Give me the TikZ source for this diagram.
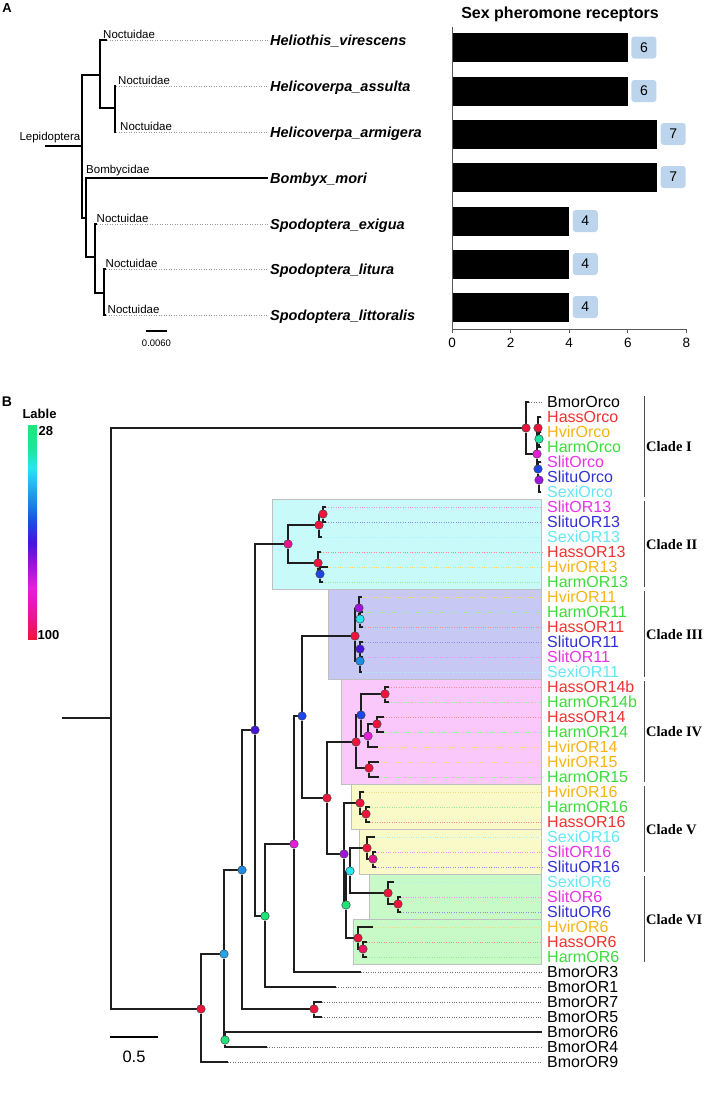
\documentclass[tikz,border=0pt]{standalone}
\usepackage{fontspec}
\setmainfont{Liberation Sans}
\newfontfamily\cladefont{Liberation Serif}
\usetikzlibrary{backgrounds}
\usetikzlibrary{positioning}

% species colours (leaf names)
\definecolor{cHass}{HTML}{F03232}
\definecolor{cHvir}{HTML}{F5B414}
\definecolor{cHarm}{HTML}{3CDC3C}
\definecolor{cSlit}{HTML}{E632E6}
\definecolor{cSlitu}{HTML}{3232D2}
\definecolor{cSexi}{HTML}{64E6F5}
\definecolor{cBmor}{HTML}{000000}
% support colours (node dots)
\definecolor{bRed}{HTML}{F0143C}
\definecolor{bPink}{HTML}{EB1490}
\definecolor{bMag}{HTML}{E61EDC}
\definecolor{bPur}{HTML}{A014DC}
\definecolor{bVio}{HTML}{4614DC}
\definecolor{bBlue}{HTML}{1E46E6}
\definecolor{bSky}{HTML}{1E8CE6}
\definecolor{bCyan}{HTML}{28E6F0}
\definecolor{bTeal}{HTML}{1EE6A0}
\definecolor{bGreen}{HTML}{1EE678}
% clade boxes
\definecolor{boxII}{HTML}{C8FAFA}
\definecolor{boxIII}{HTML}{C8C8F5}
\definecolor{boxIV}{HTML}{FAC8FA}
\definecolor{boxV}{HTML}{FAFAC8}
\definecolor{boxVI}{HTML}{C8FAC8}
\definecolor{valblue}{HTML}{BCD5EC}
\definecolor{treeblack}{HTML}{1E1E1E}

\pgfdeclareverticalshading{lablebar}{100bp}{color(0bp)=(bRed); color(25bp)=(bRed);
  color(30bp)=(bPink); color(37bp)=(bMag); color(42bp)=(bPur); color(47.5bp)=(bVio);
  color(52bp)=(bBlue); color(57.5bp)=(bSky); color(65bp)=(bCyan); color(69bp)=(bTeal);
  color(75bp)=(bGreen); color(100bp)=(bGreen)}

\tikzset{
  panel/.style={font=\fontsize{13}{15}\selectfont\bfseries, inner sep=0pt},
  sp/.style={font=\fontsize{14.5}{16}\selectfont\bfseries\itshape, anchor=base west, inner sep=0pt},
  fam/.style={font=\fontsize{11.5}{13}\selectfont, anchor=south west, inner sep=0.5pt},
  adot/.style={draw=black!40, line width=0.6pt, dash pattern=on 1pt off 1.5pt, shorten >=2pt},
  barbox/.style={anchor=west, fill=black, inner sep=0pt, minimum height=29pt},
  valbox/.style={fill=valblue, rounded corners=3pt, inner sep=0pt, minimum width=25pt,
    minimum height=22pt, font=\fontsize{14}{16}\selectfont},
  axisline/.style={draw=black!65, line width=0.8pt},
  tick/.style={font=\fontsize{13.5}{15}\selectfont, inner sep=0pt},
  bn/.style={circle, draw=black!75, line width=0.5pt, inner sep=0pt, minimum size=8.5pt},
  tline/.style={draw=treeblack, line width=1.1pt},
  leafname/.style={anchor=west, inner sep=0pt, font=\fontsize{16}{18}\selectfont,
    text height=11.5pt, text depth=0pt},
  leafdot/.style={line width=0.8pt, dash pattern=on 0.8pt off 1.6pt, shorten >=5pt},
  cbox/.style={draw=black!25, line width=0.6pt},
  cbar/.style={draw=black!70, line width=1pt},
  cladelab/.style={anchor=west, inner sep=0pt, font=\fontsize{14.5}{16}\selectfont\cladefont\bfseries}
}

\begin{document}
\begin{tikzpicture}[x=1pt, y=-1pt]
\useasboundingbox (0,0) rectangle (714,1114);

% ---------------- panel A
\node[panel] (pA) at (7,8) {A};

\coordinate (lstub) at (45,146);
\coordinate (lep) at (82,146);
\coordinate (ag1) at (100,75);
\coordinate (ag2) at (115,108);
\coordinate (ag3) at (86,218);
\coordinate (ag4) at (95,257);
\coordinate (ag5) at (104,293);
\coordinate (at1) at (107,40);
\coordinate (at2) at (116,86);
\coordinate (at3) at (116,132);
\coordinate (at4) at (268,178);
\coordinate (at5) at (97,224);
\coordinate (at6) at (106,269);
\coordinate (at7) at (106,315);

\node[sp] (sp1) at (270,45) {Heliothis\_virescens};
\node[sp] (sp2) at (270,91) {Helicoverpa\_assulta};
\node[sp] (sp3) at (270,137) {Helicoverpa\_armigera};
\node[sp] (sp4) at (270,183) {Bombyx\_mori};
\node[sp] (sp5) at (270,229) {Spodoptera\_exigua};
\node[sp] (sp6) at (270,274) {Spodoptera\_litura};
\node[sp] (sp7) at (270,320) {Spodoptera\_littoralis};

\node[fam, anchor=south east] (lepl) at (81,144) {Lepidoptera};
\node[fam] (f1) at (102.5,39) {Noctuidae};
\node[fam] (f2) at (117.5,85) {Noctuidae};
\node[fam] (f3) at (119.5,131) {Noctuidae};
\node[fam] (f4) at (85.5,177) {Bombycidae};
\node[fam] (f5) at (96,223) {Noctuidae};
\node[fam] (f6) at (105,268) {Noctuidae};
\node[fam] (f7) at (107,314) {Noctuidae};

\begin{scope}[every edge/.style={draw=black, line width=1.5pt, to path={|- (\tikztotarget)}}]
	\draw[line width=1.5pt] (lstub) -- (lep);
	\path (lep) edge (ag1);
	\path (lep) edge (ag3);
	\path (ag1) edge (at1);
	\path (ag1) edge (ag2);
	\path (ag2) edge (at2);
	\path (ag2) edge (at3);
	\path (ag3) edge (at4);
	\path (ag3) edge (ag4);
	\path (ag4) edge (at5);
	\path (ag4) edge (ag5);
	\path (ag5) edge (at6);
	\path (ag5) edge (at7);
\end{scope}
\foreach \i in {1,2,3,5,6,7}
	\draw[adot] (at\i) -- (at\i -| sp\i.west);

\draw[line width=1.2pt] (146,331) -- (167,331);
\node[font=\fontsize{9.5}{11}\selectfont, inner sep=0pt] (scA) at (156.5,343) {0.0060};

% bar chart
\node[font=\fontsize{16}{18}\selectfont\bfseries, inner sep=0pt] (ttl) at (560,14) {Sex pheromone receptors};
\foreach \v/\yc [count=\i] in {6/47.5,6/91,7/134,7/177,4/221,4/264,4/307} {
	\node[barbox, minimum width=\v*29.3pt] (b\i) at (452,\yc) {};
	\node[valbox, right=3pt of b\i] (v\i) {\v};
}
\draw[axisline] (452,27) -- (452,329) -- (686,329);
\foreach \t in {0,2,4,6,8} {
	\draw[axisline] (452+29.3*\t,329) -- ++(0,4);
	\node[tick] (tk\t) at (452+29.3*\t,343) {\t};
}

% ---------------- panel B
\node[panel, font=\fontsize{14}{16}\selectfont\bfseries] (pB) at (7,402) {B};
\node[panel] (lab) at (39.5,414) {Lable};
\shade[shading=lablebar] (28,425) rectangle (37,639);
\node[panel, anchor=west] (hi) at (38.5,431) {28};
\node[panel, anchor=west] (lo) at (37.5,635) {100};

\begin{scope}[on background layer]
	\filldraw[cbox, fill=boxII] (272,499) rectangle (541,589);
	\filldraw[cbox, fill=boxIII] (328,589) rectangle (541,679);
	\filldraw[cbox, fill=boxIV] (341,679) rectangle (541,784);
	\filldraw[cbox, fill=boxV] (351,784) rectangle (541,829);
	\filldraw[cbox, fill=boxV] (359,829) rectangle (541,874);
	\filldraw[cbox, fill=boxVI] (369,874) rectangle (541,919);
	\filldraw[cbox, fill=boxVI] (353,919) rectangle (541,964);
\end{scope}

\begin{scope}[every node/.style={bn}]
	% backbone
	\node[fill=bRed] (n0) at (201,1009) {};
	\node[fill=bSky!70!bCyan] (n1) at (224,954) {};
	\node[fill=bSky] (n2) at (242,870) {};
	\node[fill=bVio] (n3) at (255,730) {};
	\node[fill=bGreen] (n4) at (265,916) {};
	\node[fill=bMag] (n5) at (294,844) {};
	\node[fill=bBlue] (n6) at (302,716) {};
	\node[fill=bRed] (n7) at (327,798) {};
	\node[fill=bPur] (n8) at (344,854) {};
	\node[fill=bGreen] (n9) at (346,905) {};
	\node[fill=bCyan] (n10) at (350,871) {};
	\node[fill=bGreen] (n11) at (225,1040) {};
	\node[fill=bRed] (n12) at (314,1009) {};
	% clade I
	\node[fill=bRed] (c1) at (526,428) {};
	\node[fill=bMag] (c1a) at (537,454) {};
	\node[fill=bRed] (c1b) at (538,428) {};
	\node[fill=bTeal] (c1c) at (539,439) {};
	\node[fill=bBlue] (c1d) at (538,469) {};
	\node[fill=bPur] (c1e) at (539,480) {};
	% clade II
	\node[fill=bPink] (c2) at (288,544) {};
	\node[fill=bRed] (c2a) at (319,525) {};
	\node[fill=bRed] (c2b) at (323,514) {};
	\node[fill=bRed] (c2c) at (318,563) {};
	\node[fill=bBlue] (c2d) at (320,574) {};
	% clade III
	\node[fill=bRed] (c3) at (355,636) {};
	\node[fill=bPur] (c3a) at (359,608) {};
	\node[fill=bCyan] (c3b) at (360,619) {};
	\node[fill=bSky] (c3c) at (360,661) {};
	\node[fill=bVio] (c3d) at (360,649) {};
	% clade IV
	\node[fill=bRed] (c4) at (356,742) {};
	\node[fill=bBlue] (c4a) at (361,715) {};
	\node[fill=bRed] (c4b) at (385,694) {};
	\node[fill=bMag] (c4c) at (368,736) {};
	\node[fill=bRed] (c4d) at (377,724) {};
	\node[fill=bRed] (c4e) at (369,768) {};
	% clade V
	\node[fill=bRed] (c5) at (360,803) {};
	\node[fill=bRed] (c5a) at (366,814) {};
	\node[fill=bRed] (c6) at (367,848) {};
	\node[fill=bPink] (c6a) at (373,859) {};
	% clade VI
	\node[fill=bRed] (c7) at (388,893) {};
	\node[fill=bRed] (c7a) at (398,904) {};
	\node[fill=bRed] (c8) at (358,938) {};
	\node[fill=bPink!40!bRed] (c8a) at (363,949) {};
\end{scope}

% leaves: name / colour / tip
\foreach \n/\c/\tx [count=\i from 0] in {
	BmorOrco/cBmor/529, HassOrco/cHass/541, HvirOrco/cHvir/541, HarmOrco/cHarm/541,
	SlitOrco/cSlit/541, SlituOrco/cSlitu/541, SexiOrco/cSexi/541,
	SlitOR13/cSlit/326, SlituOR13/cSlitu/326, SexiOR13/cSexi/322,
	HassOR13/cHass/321, HvirOR13/cHvir/328, HarmOR13/cHarm/323,
	HvirOR11/cHvir/362, HarmOR11/cHarm/363, HassOR11/cHass/363,
	SlituOR11/cSlitu/363, SlitOR11/cSlit/363, SexiOR11/cSexi/362,
	HassOR14b/cHass/389, HarmOR14b/cHarm/389, HassOR14/cHass/384, HarmOR14/cHarm/384,
	HvirOR14/cHvir/378, HvirOR15/cHvir/379, HarmOR15/cHarm/379,
	HvirOR16/cHvir/364, HarmOR16/cHarm/370, HassOR16/cHass/370,
	SexiOR16/cSexi/375, SlitOR16/cSlit/376, SlituOR16/cSlitu/376,
	SexiOR6/cSexi/394, SlitOR6/cSlit/401, SlituOR6/cSlitu/401,
	HvirOR6/cHvir/373, HassOR6/cHass/367, HarmOR6/cHarm/367,
	BmorOR3/cBmor/361, BmorOR1/cBmor/336, BmorOR7/cBmor/322, BmorOR5/cBmor/322,
	BmorOR6/cBmor/542, BmorOR4/cBmor/267, BmorOR9/cBmor/228} {
	\pgfmathsetmacro\yy{402+15*\i}
	\coordinate (t\i) at (\tx,\yy);
	\node[leafname, text=\c] (l\i) at (547,\yy) {\n};
	\begin{scope}[on background layer]
		\draw[leafdot, \c!55] (t\i) -- (t\i -| l\i.west);
	\end{scope}
}

\coordinate (bstub) at (62,718);
\coordinate (broot) at (111,718);

\begin{scope}[on background layer, every edge/.style={tline, to path={|- (\tikztotarget)}}]
	\draw[tline] (bstub) -- (broot);
	\path (broot) edge (c1);
	\path (broot) edge (n0);
	\path (n0) edge (n1);
	\path (n0) edge (t44);
	\path (n1) edge (n2);
	\path (n1) edge (n11);
	\path (n11) edge (t42);
	\path (n11) edge (t43);
	\path (n2) edge (n3);
	\path (n2) edge (n12);
	\path (n12) edge (t40);
	\path (n12) edge (t41);
	\path (n3) edge (c2);
	\path (n3) edge (n4);
	\path (n4) edge (n5);
	\path (n4) edge (t39);
	\path (n5) edge (n6);
	\path (n5) edge (t38);
	\path (n6) edge (c3);
	\path (n6) edge (n7);
	\path (n7) edge (c4);
	\path (n7) edge (n8);
	\path (n8) edge (c5);
	\path (n8) edge (n9);
	\path (n9) edge (n10);
	\path (n9) edge (c8);
	\path (n10) edge (c6);
	\path (n10) edge (c7);
	% clade I
	\path (c1) edge (t0);
	\path (c1) edge (c1a);
	\path (c1a) edge (c1b);
	\path (c1a) edge (c1d);
	\path (c1b) edge (t1);
	\path (c1b) edge (c1c);
	\path (c1c) edge (t2);
	\path (c1c) edge (t3);
	\path (c1d) edge (t4);
	\path (c1d) edge (c1e);
	\path (c1e) edge (t5);
	\path (c1e) edge (t6);
	% clade II
	\path (c2) edge (c2a);
	\path (c2) edge (c2c);
	\path (c2a) edge (c2b);
	\path (c2a) edge (t9);
	\path (c2b) edge (t7);
	\path (c2b) edge (t8);
	\path (c2c) edge (t10);
	\path (c2c) edge (c2d);
	\path (c2d) edge (t11);
	\path (c2d) edge (t12);
	% clade III
	\path (c3) edge (c3a);
	\path (c3) edge (c3c);
	\path (c3a) edge (t13);
	\path (c3a) edge (c3b);
	\path (c3b) edge (t14);
	\path (c3b) edge (t15);
	\path (c3c) edge (c3d);
	\path (c3c) edge (t18);
	\path (c3d) edge (t16);
	\path (c3d) edge (t17);
	% clade IV
	\path (c4) edge (c4a);
	\path (c4) edge (c4e);
	\path (c4a) edge (c4b);
	\path (c4a) edge (c4c);
	\path (c4b) edge (t19);
	\path (c4b) edge (t20);
	\path (c4c) edge (c4d);
	\path (c4c) edge (t23);
	\path (c4d) edge (t21);
	\path (c4d) edge (t22);
	\path (c4e) edge (t24);
	\path (c4e) edge (t25);
	% clade V
	\path (c5) edge (t26);
	\path (c5) edge (c5a);
	\path (c5a) edge (t27);
	\path (c5a) edge (t28);
	\path (c6) edge (t29);
	\path (c6) edge (c6a);
	\path (c6a) edge (t30);
	\path (c6a) edge (t31);
	% clade VI
	\path (c7) edge (t32);
	\path (c7) edge (c7a);
	\path (c7a) edge (t33);
	\path (c7a) edge (t34);
	\path (c8) edge (t35);
	\path (c8) edge (c8a);
	\path (c8a) edge (t36);
	\path (c8a) edge (t37);
\end{scope}

% clade brackets
\foreach \t/\a/\b [count=\k] in {I/0/6, II/7/12, III/13/18, IV/19/25, V/26/31, VI/32/37} {
	\draw[cbar] (644,{402+15*\a-6}) -- (644,{402+15*\b+5});
	\node[cladelab] (cl\k) at (646,{402+7.5*(\a+\b)}) {Clade \t};
}

\draw[line width=1.6pt] (110,1037) -- (158,1037);
\node[inner sep=0pt, font=\fontsize{16.5}{18}\selectfont] (scB) at (134,1057) {0.5};
\end{tikzpicture}
\end{document}
